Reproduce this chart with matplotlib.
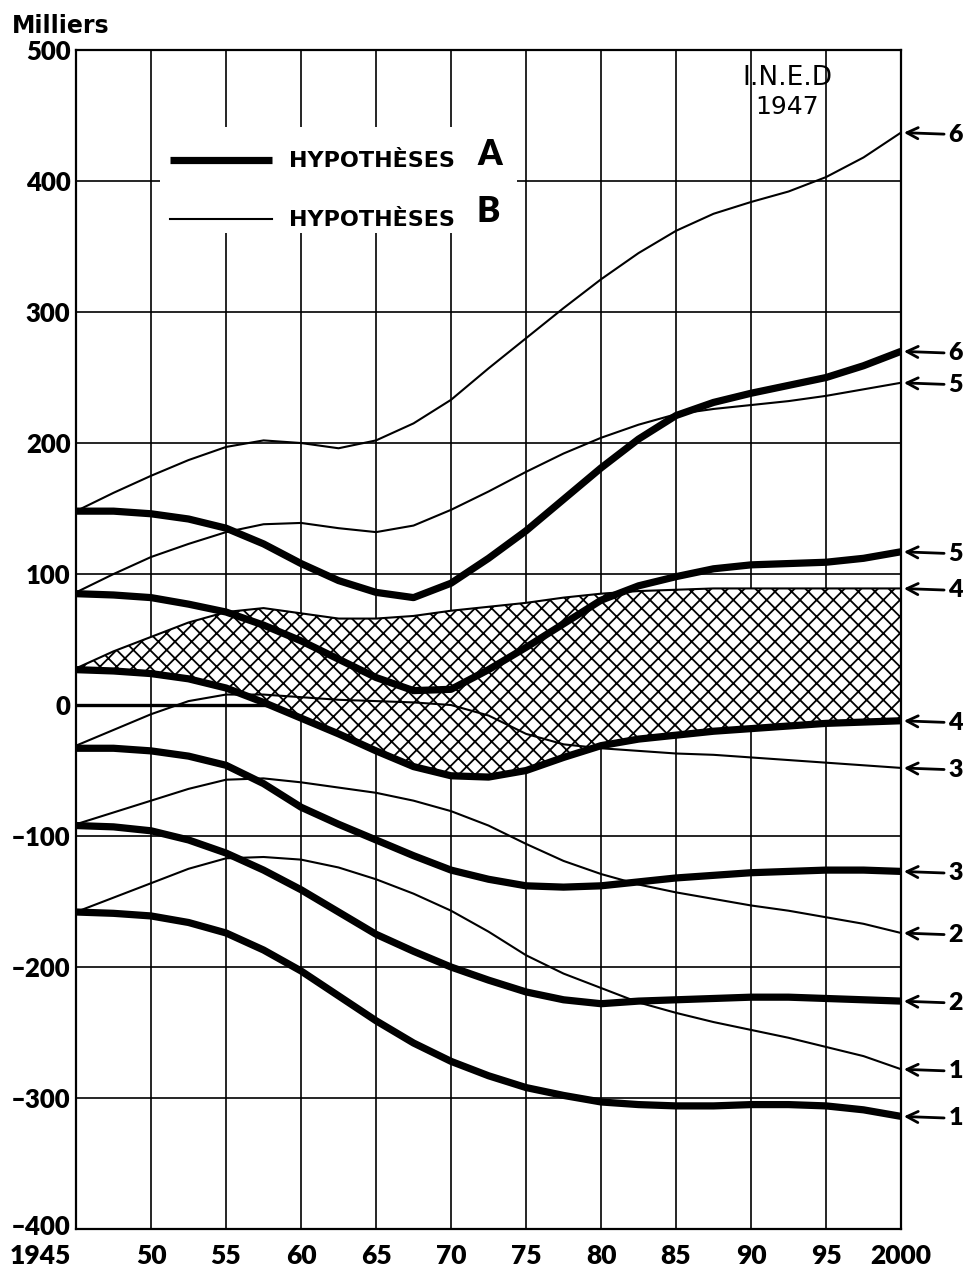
import matplotlib
matplotlib.use('Agg')
import matplotlib.pyplot as plt
from matplotlib.patches import Rectangle
from matplotlib.lines import Line2D
from matplotlib.transforms import ScaledTranslation

# années (tous les 2,5 ans)
years = [1945, 1947.5, 1950, 1952.5, 1955, 1957.5, 1960, 1962.5, 1965, 1967.5, 1970,
         1972.5, 1975, 1977.5, 1980, 1982.5, 1985, 1987.5, 1990, 1992.5, 1995, 1997.5, 2000]

# hypothèses A (traits épais), en milliers
a6 = [148, 148, 146, 142, 135, 123, 108, 95, 86, 82, 93, 112, 133, 157, 181, 203, 221, 231, 238, 244, 250, 259, 270]
a5 = [85, 84, 82, 77, 71, 61, 49, 35, 21, 11, 12, 27, 44, 62, 80, 91, 98, 104, 107, 108, 109, 112, 117]
a4 = [27, 26, 24, 20, 13, 2, -10, -22, -35, -47, -54, -55, -50, -40, -31, -26, -23, -20, -18, -16, -14, -13, -12]
a3 = [-33, -33, -35, -39, -46, -60, -78, -91, -103, -115, -126, -133, -138, -139, -138, -135, -132, -130, -128, -127, -126, -126, -127]
a2 = [-92, -93, -96, -103, -113, -126, -141, -158, -175, -188, -200, -210, -219, -225, -228, -226, -225, -224, -223, -223, -224, -225, -226]
a1 = [-158, -159, -161, -166, -174, -187, -203, -222, -241, -258, -272, -283, -292, -298, -303, -305, -306, -306, -305, -305, -306, -309, -314]

# hypothèses B (traits fins)
b6 = [148, 162, 175, 187, 197, 202, 200, 196, 202, 215, 233, 257, 280, 303, 325, 345, 362, 375, 384, 392, 403, 418, 437]
b5 = [86, 100, 113, 123, 132, 138, 139, 135, 132, 137, 149, 163, 178, 192, 204, 214, 222, 226, 229, 232, 236, 241, 246]
b4 = [28, 41, 52, 63, 71, 74, 70, 66, 66, 68, 72, 75, 78, 82, 85, 87, 88, 89, 89, 89, 89, 89, 89]
b3 = [-31, -19, -7, 3, 8, 8, 6, 4, 3, 2, 0, -8, -22, -30, -33, -35, -37, -38, -40, -42, -44, -46, -48]
b2 = [-91, -82, -73, -64, -57, -56, -59, -63, -67, -73, -81, -92, -106, -119, -129, -137, -143, -148, -153, -157, -162, -167, -174]
b1 = [-158, -147, -136, -125, -117, -116, -118, -124, -133, -144, -157, -173, -191, -205, -216, -227, -235, -242, -248, -254, -261, -268, -278]

xticks = [1945, 1950, 1955, 1960, 1965, 1970, 1975, 1980, 1985, 1990, 1995, 2000]
xlabels = ['1945', '50', '55', '60', '65', '70', '75', '80', '85', '90', '95', '2000']
yticks = [-400, -300, -200, -100, 0, 100, 200, 300, 400, 500]
ylabels = ['–400', '–300', '–200', '–100', '0', '100', '200', '300', '400', '500']

series_a = [a1, a2, a3, a4, a5, a6]
series_b = [b1, b2, b3, b4, b5, b6]
curve_ids = ['1', '2', '3', '4', '5', '6']

plt.rcParams['font.family'] = ['Lato', 'DejaVu Sans']
plt.rcParams['hatch.linewidth'] = 1.3

fig = plt.figure(figsize=(9.7, 12.76), dpi=100)
ax = fig.add_axes([0.0784, 0.0368, 0.8505, 0.924])
ax.set_xlim(1945, 2000)
ax.set_ylim(-400, 500)

ax.set_xticks(xticks)
ax.set_xticklabels(xlabels, fontsize=19, fontweight='heavy')
ax.set_yticks(yticks)
ax.set_yticklabels(ylabels, fontsize=18.5, fontweight='heavy')
ax.tick_params(length=0, pad=4)
ax.tick_params(axis='x', pad=11)
t0 = ax.get_xticklabels()[0]
t0.set_horizontalalignment('right')
t0.set_transform(t0.get_transform() + ScaledTranslation(-5 / 100, 0, fig.dpi_scale_trans))
y0 = ax.get_yticklabels()[0]
y0.set_transform(y0.get_transform() + ScaledTranslation(0, 4 / 100, fig.dpi_scale_trans))
ax.set_axisbelow(True)
ax.grid(True, color='black', lw=1.2)
for s in ax.spines.values():
    s.set_linewidth(1.6)

ax.axhline(0, color='black', lw=2.4, zorder=1)

# zone hachurée entre B4 et A4
ax.fill_between(years, a4, b4, facecolor='white', edgecolor='black',
                hatch='xx', lw=0, zorder=1.2)

for b in series_b:
    ax.plot(years, b, color='black', lw=1.5, zorder=3, solid_joinstyle='round')
for a in series_a:
    ax.plot(years, a, color='black', lw=5.2, zorder=4, solid_capstyle='butt',
            solid_joinstyle='round')

# repères à droite
for ser in (series_a, series_b):
    for s, lab in zip(ser, curve_ids):
        ax.annotate(lab, xy=(2000, s[-1]), xytext=(34, 0), textcoords='offset points',
                    ha='left', va='center_baseline', fontsize=18, fontweight='heavy',
                    annotation_clip=False,
                    arrowprops=dict(arrowstyle='->', color='black', lw=2.0,
                                    shrinkA=1, shrinkB=2, mutation_scale=20))

# cartouche de légende (fond blanc qui coupe la grille)
ax.add_patch(Rectangle((0.102, 0.845), 0.4325, 0.09, transform=ax.transAxes,
                       facecolor='white', edgecolor='none', zorder=1))
handles = [Line2D([], [], color='black', lw=5.2, solid_capstyle='butt'),
           Line2D([], [], color='black', lw=1.5)]
leg = ax.legend(handles, ['HYPOTHÈSES', 'HYPOTHÈSES'], loc='upper left',
                bbox_to_anchor=(0.114, 0.914), frameon=False, borderpad=0,
                borderaxespad=0, handlelength=4.6, handletextpad=0.75,
                labelspacing=1.75, prop={'family': 'DejaVu Sans', 'weight': 'bold', 'size': 16})
ax.text(0.486, 0.9025, 'A', transform=ax.transAxes, fontsize=25, fontweight='heavy',
        va='baseline', ha='left', zorder=6)
ax.text(0.486, 0.854, 'B', transform=ax.transAxes, fontsize=25, fontweight='heavy',
        va='baseline', ha='left', zorder=6)

ax.text(0.862, 0.976, 'I.N.E.D', transform=ax.transAxes, fontsize=19,
        family=['Liberation Sans Narrow', 'DejaVu Sans'], ha='center', va='center')
ax.text(0.862, 0.9517, '1947', transform=ax.transAxes, fontsize=18,
        family=['Liberation Sans Narrow', 'DejaVu Sans'], ha='center', va='center')

fig.text(0.0124, 0.980, 'Milliers', fontsize=17, fontweight='bold',
         family='DejaVu Sans', ha='left', va='center')

fig.savefig('out.png', dpi=100)
